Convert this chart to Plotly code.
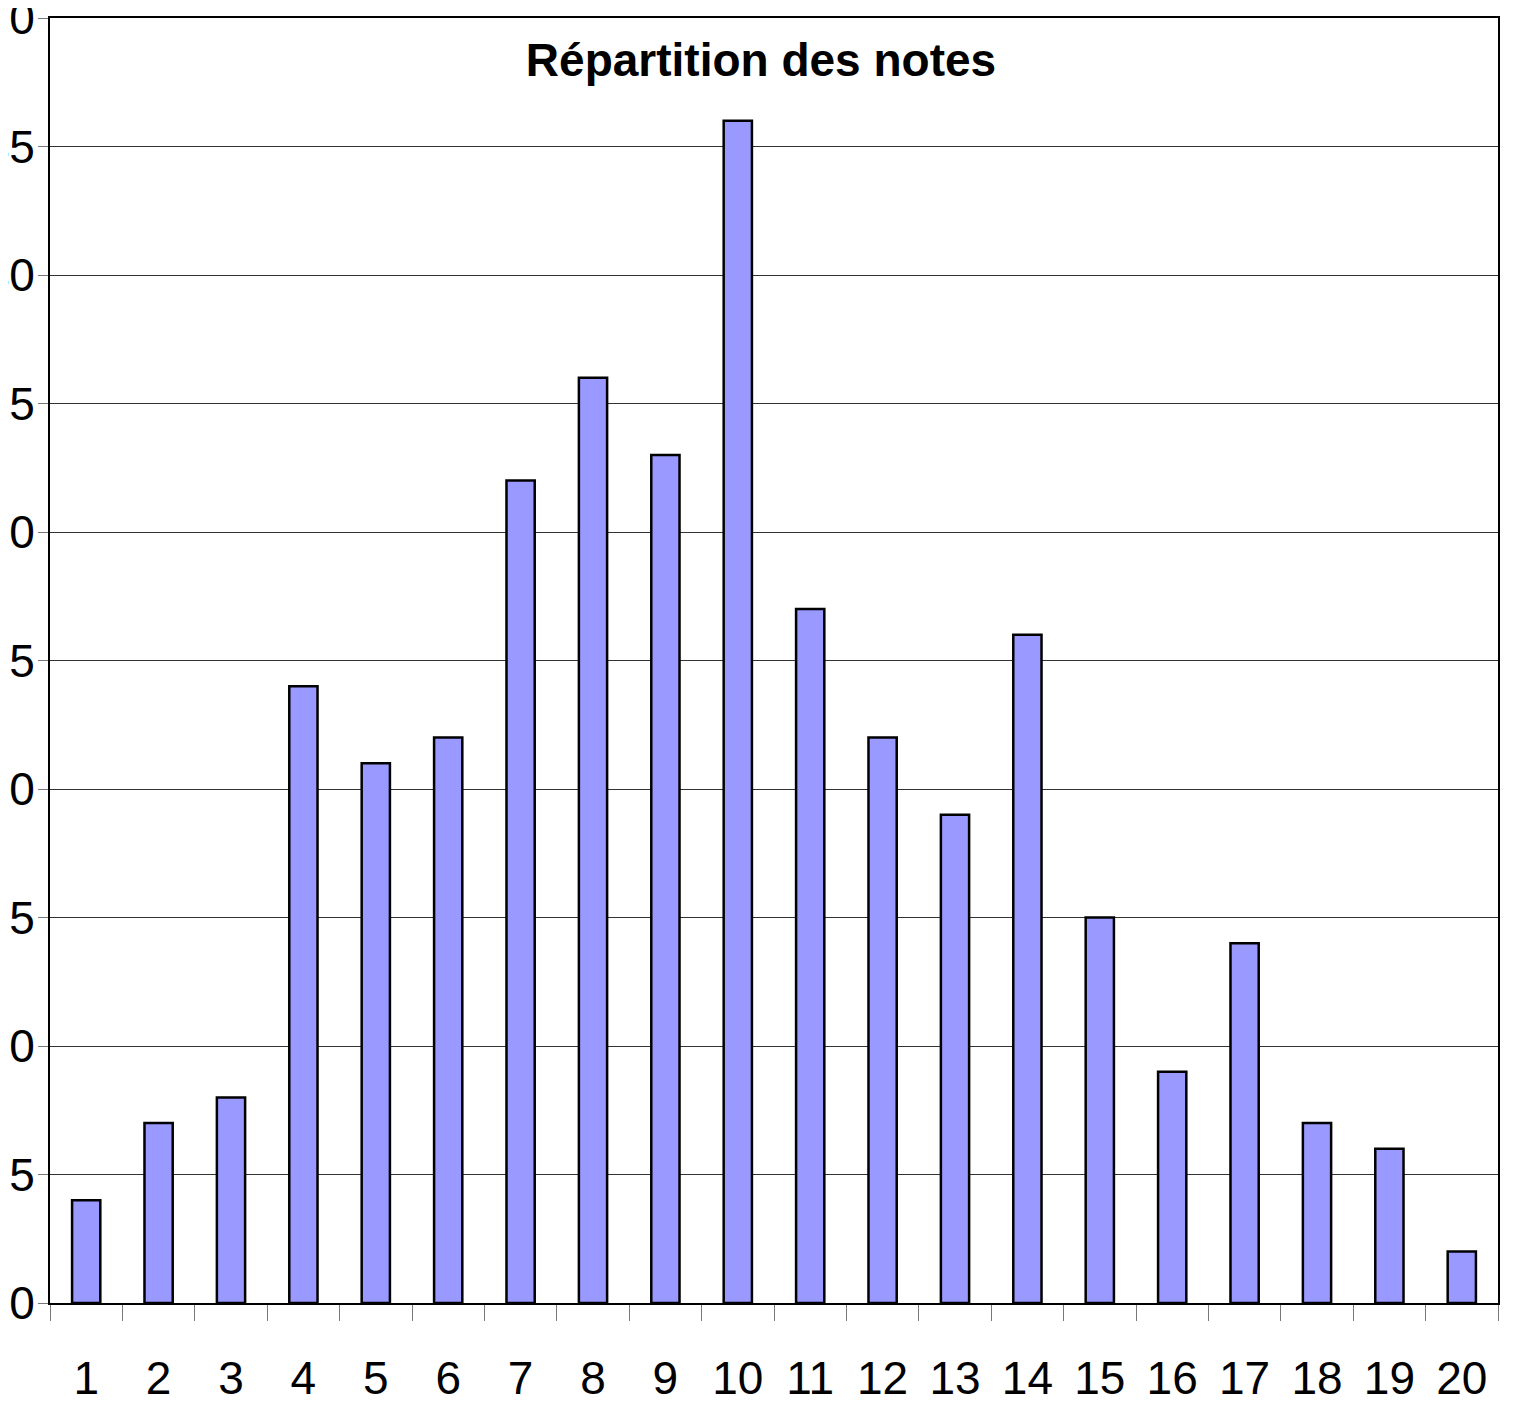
import plotly.graph_objects as go

categories = [str(i) for i in range(1, 21)]
counts = [4, 7, 8, 24, 21, 22, 32, 36, 33, 46, 27, 22, 19, 26, 15, 9, 14, 7, 6, 2]
y_ticks = [0, 5, 10, 15, 20, 25, 30, 35, 40, 45, 50]
title_text = "Répartition des notes"

fig = go.Figure(
    go.Bar(
        x=categories,
        y=counts,
        width=0.39,
        marker=dict(color="#9999FF", line=dict(color="black", width=2.5)),
    )
)

font_family = "Liberation Sans, Arial, sans-serif"

fig.update_layout(
    width=1506,
    height=1400,
    margin=dict(l=42, r=16, t=10, b=105),
    paper_bgcolor="white",
    plot_bgcolor="white",
    showlegend=False,
    bargap=0.6,
    title=dict(
        text="<b>" + title_text + "</b>",
        x=0.5,
        xanchor="center",
        y=1 - 52 / 1400,
        yanchor="middle",
        font=dict(family=font_family, size=46, color="black"),
    ),
    xaxis=dict(
        type="category",
        showgrid=False,
        showline=True,
        linecolor="black",
        linewidth=2,
        mirror=True,
        ticks="outside",
        tickson="boundaries",
        ticklen=16,
        tickwidth=1,
        tickcolor="#777777",
        tickfont=dict(family=font_family, size=46, color="black"),
        ticklabelstandoff=34,
        automargin=False,
    ),
    yaxis=dict(
        range=[0, 50],
        tickvals=y_ticks,
        showgrid=True,
        gridcolor="#333333",
        gridwidth=1,
        zeroline=False,
        showline=True,
        linecolor="black",
        linewidth=2,
        mirror=True,
        ticks="outside",
        ticklen=10,
        tickwidth=1,
        tickcolor="#777777",
        tickfont=dict(family=font_family, size=46, color="black"),
        ticklabelstandoff=-6,
        ticklabeloverflow="allow",
        automargin=False,
    ),
)

fig.write_html("out.html")
